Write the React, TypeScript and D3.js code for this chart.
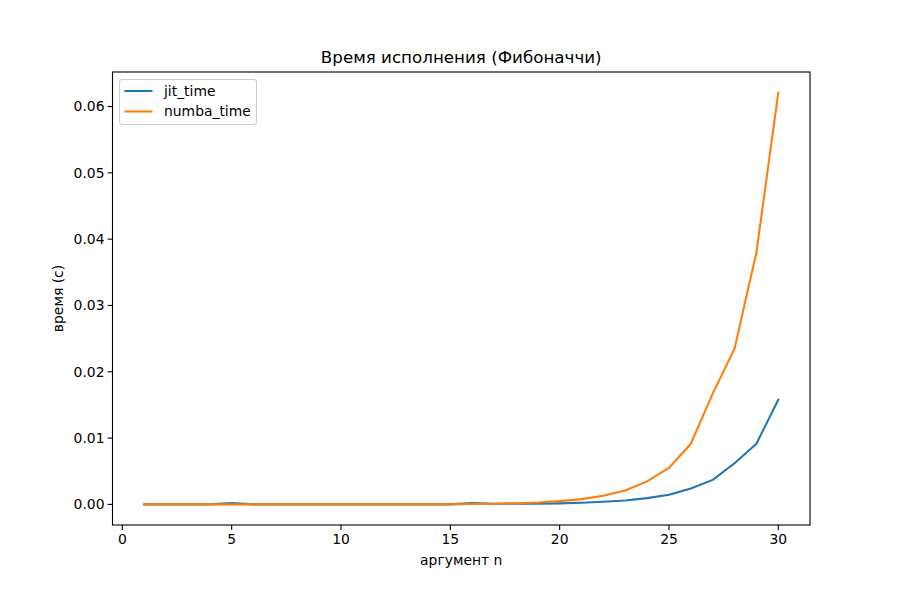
import React from "react";
import * as d3 from "d3";

const nValues = [1,2,3,4,5,6,7,8,9,10,11,12,13,14,15,16,17,18,19,20,21,22,23,24,25,26,27,28,29,30];
const jitTime = [0,0,0,0,0.0002,0,0,0,0,0,0,0,0,0,0,0.0002,0.0001,0.0001,0.0001,0.00015,0.00025,0.0004,0.0006,0.00095,0.00146,0.0024,0.0037,0.0062,0.00915,0.0158];
const numbaTime = [0,0,0,0,0,0,0,0,0,0,0,0,0,0,0,0.00005,0.0001,0.00018,0.0003,0.0005,0.0008,0.0013,0.0021,0.00347,0.0055,0.00915,0.0167,0.0235,0.038,0.0621];
const xTicks = [0,5,10,15,20,25,30];
const yTicks = [0,0.01,0.02,0.03,0.04,0.05,0.06];
const seriesNames = ["jit_time","numba_time"];
const colors = ["#1f77b4","#ff7f0e"];

export default function App() {
  const W = 900, H = 600;
  const L = 112.5, R = 810, T = 72, B = 525;
  const x = d3.scaleLinear().domain([1 - 1.45, 30 + 1.45]).range([L, R]);
  const ymax = d3.max(numbaTime)!;
  const pad = ymax * 0.05;
  const y = d3.scaleLinear().domain([-pad, ymax + pad]).range([B, T]);
  const line = d3.line<number>().x((_, i) => x(nValues[i])).y(d => y(d));
  const font = "DejaVu Sans, sans-serif";
  const series = [jitTime, numbaTime];
  return (
    <svg width={W} height={H} style={{ position: "absolute", left: 0, top: 0, background: "#fff" }} fontFamily={font}>
      <rect x={0} y={0} width={W} height={H} fill="#fff" />
      <defs>
        <clipPath id="clip"><rect x={L} y={T} width={R - L} height={B - T} /></clipPath>
      </defs>
      <g clipPath="url(#clip)">
        {series.map((s, k) => (
          <path key={k} d={line(s)!} fill="none" stroke={colors[k]} strokeWidth={2.08} strokeLinejoin="round" strokeLinecap="square" />
        ))}
      </g>
      <rect x={L} y={T} width={R - L} height={B - T} fill="none" stroke="#000" strokeWidth={1.1} />
      {xTicks.map(t => (
        <g key={t}>
          <line x1={x(t)} x2={x(t)} y1={B} y2={B + 4.9} stroke="#000" strokeWidth={1.1} />
          <text x={x(t)} y={B + 19} textAnchor="middle" fontSize={13.9} fill="#000">{t}</text>
        </g>
      ))}
      {yTicks.map(t => (
        <g key={t}>
          <line x1={L - 4.9} x2={L} y1={y(t)} y2={y(t)} stroke="#000" strokeWidth={1.1} />
          <text x={L - 8} y={y(t)} dy="0.35em" textAnchor="end" fontSize={13.9} fill="#000">{t.toFixed(2)}</text>
        </g>
      ))}
      <text x={(L + R) / 2} y={B + 40} textAnchor="middle" fontSize={13.9} fill="#000">аргумент n</text>
      <text transform={`translate(63,${(T + B) / 2}) rotate(-90)`} textAnchor="middle" fontSize={13.9} fill="#000">время (с)</text>
      <text x={(L + R) / 2} y={T - 9} textAnchor="middle" fontSize={16.7} fill="#000">Время исполнения (Фибоначчи)</text>
      <g>
        <rect x={119.5} y={79.5} width={137} height={45} rx={2.5} fill="#fff" fillOpacity={0.8} stroke="#ccc" strokeWidth={1} />
        {seriesNames.map((n, k) => (
          <g key={n}>
            <line x1={124.5} x2={152.5} y1={91 + k * 20.5} y2={91 + k * 20.5} stroke={colors[k]} strokeWidth={2.08} />
            <text x={164} y={91 + k * 20.5} dy="0.35em" fontSize={13.9} fill="#000">{n}</text>
          </g>
        ))}
      </g>
    </svg>
  );
}
